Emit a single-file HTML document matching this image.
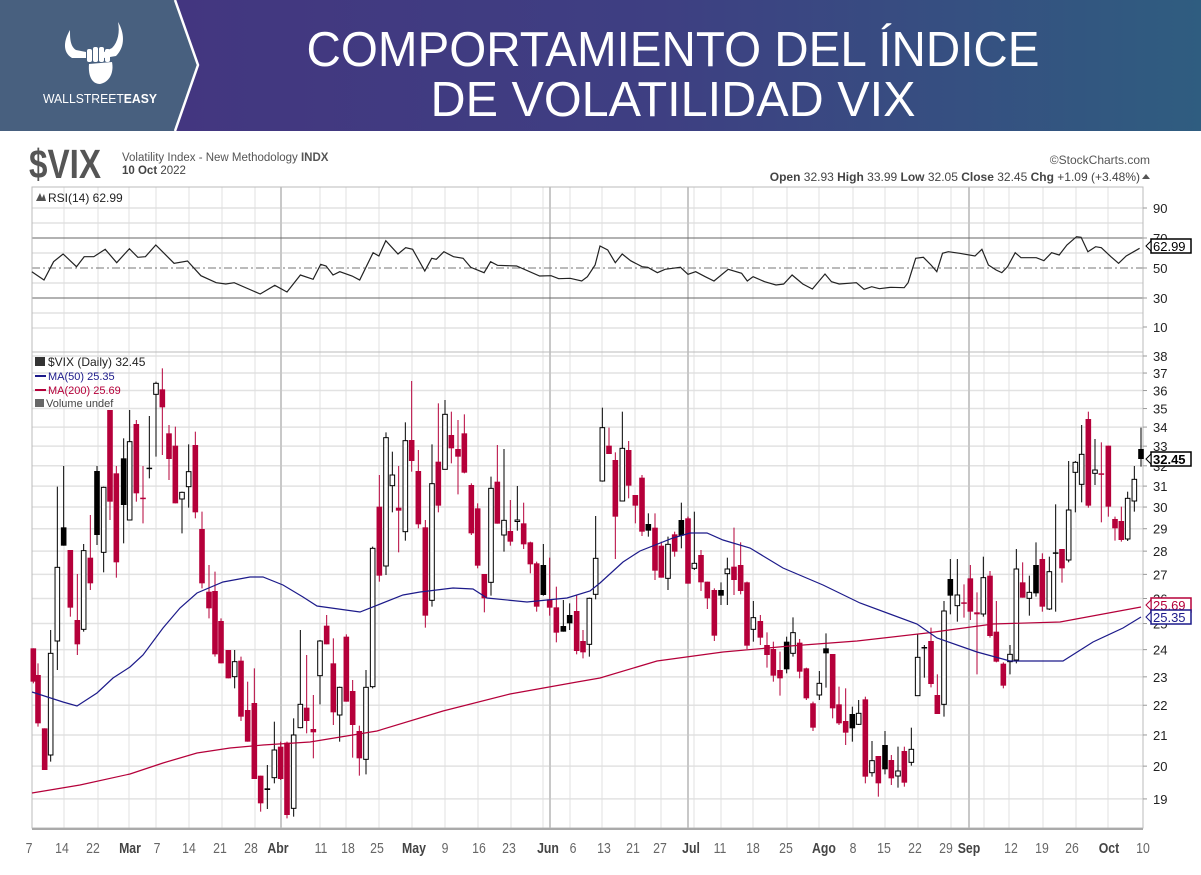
<!DOCTYPE html>
<html><head><meta charset="utf-8">
<style>
html,body{margin:0;padding:0;background:#fff;width:1201px;height:875px;overflow:hidden}
svg{display:block}
text{font-family:"Liberation Sans",sans-serif}
</style></head><body>
<svg id="s" width="1201" height="875" viewBox="0 0 1201 875" xmlns="http://www.w3.org/2000/svg">
<defs>
<linearGradient id="hg" x1="0" x2="1" y1="0" y2="0">
<stop offset="0" stop-color="#45337f"/><stop offset="0.55" stop-color="#3e3f82"/><stop offset="1" stop-color="#2f5d80"/>
</linearGradient>
</defs>
<rect x="0" y="0" width="1201" height="131" fill="url(#hg)"/>
<polygon points="0,0 175,0 198,65 175,131 0,131" fill="#48607f"/>
<polyline points="175,0 198,65 175,131" fill="none" stroke="#fff" stroke-width="2.5"/>
<!-- logo -->
<g fill="#fff">
<path d="M70,30 C64,40 62,52 72,58 L86,58 L86,52 L76,50 C70,46 70,38 70,30 Z"/>
<path d="M118,22 C124,32 126,46 116,56 L104,58 L104,52 L112,48 C118,42 120,32 118,22 Z"/>
<rect x="87" y="49" width="5" height="13" rx="2"/><rect x="93" y="47" width="5" height="15" rx="2"/><rect x="99" y="47" width="5" height="15" rx="2"/><rect x="105" y="49" width="5" height="13" rx="2"/>
<path d="M89,64 L112,62 C114,72 110,82 100,84 C92,84 88,76 89,64 Z"/>
</g>
<text x="43" y="103" font-size="12.5" fill="#fff" textLength="114" lengthAdjust="spacingAndGlyphs">WALLSTREET<tspan font-weight="bold">EASY</tspan></text>
<text x="673" y="66" font-size="49" fill="#fff" text-anchor="middle" textLength="733" lengthAdjust="spacingAndGlyphs">COMPORTAMIENTO DEL ÍNDICE</text>
<text x="673" y="116" font-size="49" fill="#fff" text-anchor="middle" textLength="485" lengthAdjust="spacingAndGlyphs">DE VOLATILIDAD VIX</text>

<!-- chart header -->
<text x="29" y="178" font-size="41" font-weight="bold" fill="#555" textLength="72" lengthAdjust="spacingAndGlyphs">$VIX</text>
<text x="122" y="161" font-size="11.5" fill="#555">Volatility Index - New Methodology  <tspan font-weight="bold">INDX</tspan></text>
<text x="122" y="174" font-size="11.5" fill="#444"><tspan font-weight="bold">10 Oct</tspan> 2022</text>
<text x="1150" y="164" font-size="12" fill="#555" text-anchor="end">©StockCharts.com</text>
<text x="1140" y="181" font-size="12" fill="#444" text-anchor="end"><tspan font-weight="bold">Open</tspan> 32.93  <tspan font-weight="bold">High</tspan> 33.99  <tspan font-weight="bold">Low</tspan> 32.05  <tspan font-weight="bold">Close</tspan> 32.45  <tspan font-weight="bold">Chg</tspan> +1.09 (+3.48%)</text>
<polygon points="1142,179 1150,179 1146,174" fill="#555"/>
<g id="g"></g>
</svg>
<script>
(function(){
var NS="http://www.w3.org/2000/svg",g=document.getElementById("g");
function el(t,a,txt){var e=document.createElementNS(NS,t);for(var k in a)e.setAttribute(k,a[k]);if(txt!=null)e.textContent=txt;g.appendChild(e);return e;}
var L=32,R=1143,RT=187,RB=352,PB=828;
// backgrounds
el("rect",{x:L,y:RT,width:R-L,height:PB-RT,fill:"#fff"});
// RSI grid
function ry(v){return 268-(v-50)*1.5;}
for(var v=10;v<=90;v+=10){if(v==30||v==50||v==70)continue;el("line",{x1:L,x2:R,y1:ry(v),y2:ry(v),stroke:"#e2e2e2","stroke-width":1.5});}
// price grid
function py(p){return 356+639*Math.log(38/p);}
for(var p=19;p<=38;p++){el("line",{x1:L,x2:R,y1:py(p),y2:py(p),stroke:"#e2e2e2","stroke-width":1.5});}
// vertical grid
var vx=[64,98,129,156,189,222,255,320,346,379,412,445,478,511,543,570,602,635,661,694,721,753,787,819,853,885,918,951,984,1009,1043,1076,1108];
vx.forEach(function(x){el("line",{x1:x,x2:x,y1:RT,y2:PB,stroke:"#e0e0e0","stroke-width":1});});
[281,550,688,969].forEach(function(x){el("line",{x1:x,x2:x,y1:RT,y2:PB,stroke:"#c8c8c8","stroke-width":2});});
// RSI key lines
el("line",{x1:L,x2:R,y1:238,y2:238,stroke:"#666","stroke-width":1});
el("line",{x1:L,x2:R,y1:298,y2:298,stroke:"#666","stroke-width":1});
el("line",{x1:L,x2:R,y1:268,y2:268,stroke:"#777","stroke-width":1,"stroke-dasharray":"8,3,2,3"});
// frames
el("rect",{x:L,y:RT,width:R-L,height:RB-RT,fill:"none",stroke:"#bbb"});
el("rect",{x:L,y:RB,width:R-L,height:PB-RB,fill:"none",stroke:"#bbb"});
// RSI line
var r1=[[83,425],[115,450],[140,395],[165,372],[200,410],[220,380],[245,380],[275,358],[305,398],[338,356],[360,382],[380,380],[407,345],[455,400],[490,393],[525,437],[565,458],[590,462],[612,458],[680,492],[718,466],[750,486],[785,435],[818,448],[838,403],[852,408],[870,435],[888,425],[920,438],[940,450],[975,368],[990,378],[1008,332],[1040,372],[1060,353],[1078,358],[1110,423],[1128,385],[1140,388],[1160,365],[1185,380],[1210,385],[1230,412],[1265,428],[1282,395],[1300,406],[1350,408],[1410,438],[1440,437],[1460,446],[1490,445],[1520,453],[1535,440],[1555,405]];
var r2=[[0,348],[20,360],[40,398],[58,372],[80,392],[110,410],[125,412],[150,428],[170,418],[210,412],[230,433],[250,425],[275,440],[298,453],[335,418],[370,430],[385,453],[400,440],[430,455],[460,465],[480,462],[502,435],[530,462],[555,477],[588,432],[605,455],[625,462],[670,458],[690,478],[710,470],[730,476],[760,472],[795,473],[805,458],[825,385],[845,382],[865,405],[880,425],[895,370],[910,365],[940,370],[980,378],[998,358],[1015,405],[1035,420],[1050,428],[1065,410],[1085,368],[1100,383],[1140,383],[1160,392],[1180,368],[1200,375],[1220,345],[1245,320],[1257,322],[1275,365],[1295,350],[1310,353],[1335,380],[1355,400],[1375,378],[1410,355]];
var pts=[];r1.forEach(function(q){pts.push((q[0]/2.613).toFixed(1)+","+(130+q[1]/3).toFixed(1));});
r2.forEach(function(q){pts.push((600+q[0]/2.613).toFixed(1)+","+(130+q[1]/3).toFixed(1));});
el("polyline",{points:pts.join(" "),fill:"none",stroke:"#222","stroke-width":1.2});
// candles
var Z=[[30,[[10,880,880,980,985,"r"],[24,925,960,1105,1115,"r"],[44,1120,1120,1245,1245,"r"],[62,825,895,1200,1220,"w"],[82,395,637,858,945,"w"],[101,333,517,572,572,"b"],[121,585,585,758,785,"r"],[142,657,795,868,900,"r"],[161,567,587,823,830,"w"],[181,480,608,685,705,"r"],[201,333,348,540,570,"b"],[221,395,397,592,652,"w"],[240,165,165,440,495,"r"],[259,333,355,622,668,"r"],[281,250,310,450,565,"b"],[299,165,260,495,495,"w"],[319,195,207,415,440,"r"],[339,333,428,432,505,"r"],[358,183,338,342,370,"b"],[378,80,85,118,305,"w"],[397,40,103,157,300,"r"],[417,210,235,312,375,"r"],[436,215,272,445,445,"r"],[456,410,412,432,535,"w"],[476,268,350,395,458,"w"],[496,230,270,472,490,"r"],[516,470,522,685,700,"r"],[537,630,710,760,790,"r"],[555,650,708,898,905,"r"],[573,790,798,925,925,"r"],[595,885,885,970,970,"r"],[614,885,920,965,1000,"w"],[633,905,917,1085,1098,"r"],[653,980,1065,1160,1160,"r"],[673,940,1044,1272,1272,"r"],[692,1262,1262,1345,1370,"r"],[712,1230,1300,1305,1362,"b"],[733,1100,1185,1268,1285,"w"],[752,1160,1175,1272,1275,"r"],[771,1160,1163,1380,1390,"r"],[791,1090,1140,1360,1385,"w"],[811,825,1048,1118,1120,"w"],[830,900,1058,1098,1135,"r"],[850,1020,1122,1132,1210,"r"]]],
[310,[[30,855,858,962,1048,"w"],[50,780,812,868,868,"r"],[70,850,925,1072,1110,"r"],[89,995,997,1080,1160,"w"],[109,838,845,1040,1040,"r"],[128,975,1008,1110,1208,"r"],[148,1112,1128,1210,1262,"r"],[168,945,997,1213,1258,"w"],[188,575,580,995,1000,"w"],[208,360,455,662,680,"r"],[228,232,248,633,660,"w"],[247,290,360,392,472,"w"],[266,333,458,467,592,"r"],[286,202,257,530,557,"w"],[305,78,255,318,350,"r"],[325,285,348,508,520,"r"],[346,495,517,782,818,"r"],[366,268,386,736,755,"w"],[385,145,320,452,472,"r"],[405,135,178,343,343,"w"],[424,170,240,280,325,"r"],[444,195,282,305,418,"r"],[463,178,235,353,355,"r"],[484,385,390,535,540,"r"],[503,445,460,632,640,"r"],[523,657,657,730,772,"r"],[543,365,400,682,722,"w"],[562,270,380,506,506,"r"],[582,282,496,540,590,"w"],[601,435,528,560,572,"r"],[622,393,495,497,527,"w"],[641,443,505,568,582,"r"],[661,560,562,628,655,"r"],[680,620,625,755,770,"r"],[700,567,630,720,722,"b"],[719,608,733,758,782,"r"],[739,695,757,833,862,"r"],[760,735,813,830,830,"b"],[779,745,780,805,825,"b"],[800,720,768,888,898,"r"],[819,825,858,892,910,"r"],[838,728,730,868,905,"w"],[857,483,610,718,733,"w"]]],
[590,[[37,158,218,378,380,"w"],[57,218,272,297,297,"r"],[76,292,315,485,612,"r"],[97,170,280,438,438,"w"],[116,258,285,392,430,"r"],[136,420,420,452,505,"r"],[156,360,368,530,543,"r"],[175,475,507,527,545,"b"],[195,475,518,647,675,"r"],[214,560,572,668,668,"r"],[234,545,568,670,705,"w"],[254,530,538,590,605,"r"],[274,443,495,542,580,"b"],[294,485,490,686,686,"r"],[313,470,625,640,645,"w"],[333,585,600,682,708,"r"],[352,680,680,730,762,"r"],[373,700,705,842,858,"r"],[393,682,705,722,750,"b"],[412,608,642,656,750,"w"],[432,518,635,675,720,"r"],[452,562,630,708,718,"r"],[471,680,682,872,882,"r"],[490,738,788,823,860,"w"],[511,780,798,848,870,"r"],[531,832,870,900,938,"r"],[550,860,882,962,980,"r"],[570,890,945,970,1022,"r"],[590,845,860,943,955,"b"],[609,787,833,895,905,"w"],[629,852,863,950,970,"r"],[649,938,940,1030,1035,"r"],[669,1040,1045,1118,1128,"r"],[688,948,985,1020,1035,"w"],[708,835,880,895,998,"b"],[728,897,897,1060,1090,"r"],[747,995,1048,1105,1110,"r"],[767,1000,1098,1133,1170,"r"],[787,1055,1077,1120,1160,"b"],[806,1035,1075,1108,1110,"w"],[826,1025,1033,1265,1285,"r"],[846,1158,1217,1253,1265,"w"],[865,1203,1203,1285,1325,"r"]]],
[860,[[75,1128,1170,1243,1258,"b"],[94,1200,1215,1270,1290,"r"],[114,1175,1248,1263,1298,"w"],[133,1175,1188,1283,1295,"r"],[154,1118,1183,1222,1232,"w"],[173,838,907,1022,1022,"w"],[193,870,876,880,968,"b"],[213,818,858,987,997,"r"],[232,958,1020,1077,1077,"r"],[252,738,768,1048,1085,"w"],[271,612,672,722,778,"b"],[292,612,720,752,800,"w"],[312,688,742,745,788,"r"],[331,630,670,770,795,"r"],[351,712,772,778,958,"r"],[370,605,668,777,785,"w"],[390,648,662,843,848,"r"],[409,738,830,920,922,"r"],[430,922,926,992,1000,"r"],[450,870,898,920,958,"w"],[469,582,642,915,925,"w"],[488,622,682,728,728,"r"],[508,662,712,730,782,"w"],[528,562,630,715,725,"b"],[547,595,612,755,770,"r"],[568,605,650,762,765,"w"],[587,448,592,595,770,"b"],[606,582,582,640,683,"r"],[626,318,465,615,622,"w"],[646,318,322,352,472,"w"],[665,210,298,388,442,"w"],[685,170,192,452,458,"r"],[705,252,345,355,390,"w"],[724,262,355,357,502,"r"],[745,272,272,455,485,"r"],[765,485,492,520,557,"r"],[784,455,498,555,560,"r"],[803,410,430,552,558,"w"],[823,333,373,438,470,"w"],[843,218,282,312,335,"b"]]]];
Z.forEach(function(z){var x0=z[0];z[1].forEach(function(c){
 var x=x0+c[0]/3,hi=355+c[1]/3,bt=355+c[2]/3,bb=355+c[3]/3,lo=355+c[4]/3,t=c[5];
 var col=t=="r"?"#b5003a":"#000";
 el("line",{x1:x,x2:x,y1:hi,y2:lo,stroke:col,"stroke-width":1});
 var h=Math.max(bb-bt,1.5);
 if(t=="w")el("rect",{x:x-2.3,y:bt,width:4.6,height:h,fill:"#fff",stroke:"#000","stroke-width":1});
 else el("rect",{x:x-2.8,y:bt,width:5.6,height:h,fill:col});
});});
// MAs
var ma50=[[32,692],[63,702],[77,706],[97,693],[113,678],[130,667],[143,655],[163,628],[180,608],[197,593],[223,582],[250,577],[263,577],[283,585],[303,597],[317,606],[360,612],[403,595],[420,592],[453,588],[473,589],[487,598],[527,602],[567,598],[590,591],[600,583],[623,562],[640,551],[673,538],[690,533],[707,533],[723,540],[750,548],[783,568],[823,585],[860,603],[917,624],[937,638],[977,652],[1010,661],[1063,661],[1093,642],[1123,628],[1141,617]];
var ma200=[[32,793],[80,785],[130,774],[163,763],[197,753],[230,748],[263,745],[310,742],[377,731],[443,711],[510,694],[577,682],[600,678],[657,661],[723,652],[790,646],[857,641],[927,633],[993,624],[1060,622],[1141,607]];
el("polyline",{points:ma200.join(" "),fill:"none",stroke:"#b5003a","stroke-width":1.2});
el("polyline",{points:ma50.join(" "),fill:"none",stroke:"#1c1a8a","stroke-width":1.2});
// legends
var F='"DejaVu Sans","Liberation Sans",sans-serif';
el("text",{x:48,y:202,"font-size":12,fill:"#222","font-family":F},"RSI(14) 62.99");
el("polygon",{points:"36,201 40,193 42,198 44,194 46,201",fill:"#555"});
el("text",{x:48,y:366,"font-size":12,fill:"#222","font-family":F},"$VIX (Daily) 32.45");
el("rect",{x:35,y:357,width:10,height:9,fill:"#333"});
el("text",{x:48,y:380,"font-size":11,fill:"#1c1a8a","font-family":F},"MA(50) 25.35");
el("line",{x1:35,x2:46,y1:376,y2:376,stroke:"#1c1a8a","stroke-width":2});
el("text",{x:48,y:394,"font-size":11,fill:"#b5003a","font-family":F},"MA(200) 25.69");
el("line",{x1:35,x2:46,y1:390,y2:390,stroke:"#b5003a","stroke-width":2});
el("text",{x:46,y:407,"font-size":11,fill:"#444","font-family":F},"Volume undef");
el("rect",{x:35,y:399,width:9,height:8,fill:"#666"});
// right axis labels
[[90,208],[70,238],[50,268],[30,298],[10,327]].forEach(function(a){el("text",{x:1153,y:a[1]+5,"font-size":13,fill:"#222"},a[0]);el("line",{x1:R,x2:R+4,y1:a[1],y2:a[1],stroke:"#999"});});
for(var p=19;p<=38;p++){var y=py(p);el("text",{x:1153,y:y+5,"font-size":13,fill:"#222"},p);el("line",{x1:R,x2:R+4,y1:y,y2:y,stroke:"#999"});}
function box(y,txt,col,bold){el("rect",{x:1151,y:y-7,width:40,height:14,fill:"#fff",stroke:col,"stroke-width":1.5});
 el("polygon",{points:(1151)+","+(y-5)+" "+(1146)+","+y+" "+(1151)+","+(y+5),fill:"#fff",stroke:col});
 el("text",{x:1153,y:y+5,"font-size":13,fill:col,"font-weight":bold?"bold":"normal"},txt);}
box(246,"62.99","#000",false);
box(605,"25.69","#b5003a",false);
box(617,"25.35","#1c1a8a",false);
box(459,"32.45","#000",true);
// bottom axis
el("line",{x1:L,x2:R,y1:829,y2:829,stroke:"#aaa","stroke-width":2});
var labs=[["7",29],["14",62],["22",93],["Mar",130,1],["7",157],["14",189],["21",220],["28",251],["Abr",278,1],["11",321],["18",348],["25",377],["May",414,1],["9",445],["16",479],["23",509],["Jun",548,1],["6",573],["13",604],["21",633],["27",660],["Jul",691,1],["11",720],["18",753],["25",786],["Ago",824,1],["8",853],["15",884],["22",915],["29",946],["Sep",969,1],["12",1011],["19",1042],["26",1072],["Oct",1109,1],["10",1143]];
labs.forEach(function(a){var t=el("text",{x:a[1],y:853,"font-size":15,fill:a[2]?"#444":"#666","text-anchor":"middle","font-weight":a[2]?"bold":"normal"},a[0]);t.setAttribute("transform","translate("+a[1]+",0) scale(0.82,1) translate("+(-a[1])+",0)");});
})();
</script>
</body></html>
